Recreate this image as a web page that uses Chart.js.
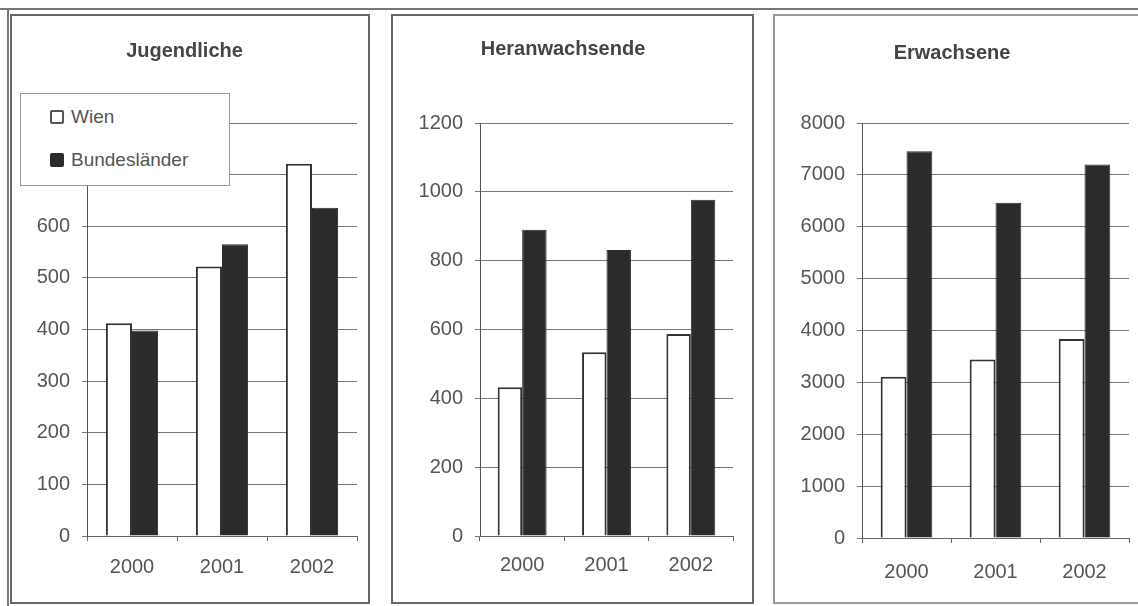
<!DOCTYPE html>
<html>
<head>
<meta charset="utf-8">
<script src="https://cdn.jsdelivr.net/npm/chart.js@4/dist/chart.umd.min.js"></script>
<style>
    body { margin: 0; background: #fff; font-family: "Liberation Sans", Arial, sans-serif; }
    #page { position: relative; width: 1138px; height: 606px; overflow: hidden; background: #fff; }
    .linie { position: absolute; background: #777; }
    .panel { position: absolute; top: 14px; height: 590px; box-sizing: border-box; border: 2px solid #666; background: #fff; }
    canvas { position: absolute; }
    #legende { position: absolute; left: 20px; top: 93px; width: 210px; height: 93px; box-sizing: border-box;
               border: 1px solid #999; background: #fff; }
    .eintrag { position: absolute; left: 29px; font-size: 19px; color: #555; line-height: 20px; white-space: nowrap; }
    .marke { display: inline-block; width: 14px; height: 14px; box-sizing: border-box; margin-right: 7px; vertical-align: -1px; border-radius: 2px; }
</style>
</head>
<body>
<div id="page">
    <div class="linie" style="left:0; top:8px; width:1138px; height:2px;"></div>
    <div class="linie" style="left:7px; top:8px; width:2px; height:598px;"></div>
    <div class="panel" style="left:10px; width:360px;"></div>
    <div class="panel" style="left:391px; width:363px;"></div>
    <div class="panel" style="left:773px; width:372px; border-color:#999;"></div>
    <canvas id="chartJugend" width="356" height="586" style="left:12px; top:16px;"></canvas>
    <canvas id="chartHeran" width="359" height="586" style="left:393px; top:16px;"></canvas>
    <canvas id="chartErw" width="368" height="586" style="left:775px; top:16px;"></canvas>
    <div id="legende"></div>
</div>
<script>
// Daten
const jahre = ['2000', '2001', '2002'];
const serien = ['Wien', 'Bundesländer'];
const titel = ['Jugendliche', 'Heranwachsende', 'Erwachsene'];

const jugendWien = [412, 522, 721];
const jugendBund = [398, 565, 636];
const heranWien = [432, 534, 587];
const heranBund = [890, 831, 977];
const erwWien = [3108, 3442, 3838];
const erwBund = [7454, 6462, 7198];

// Achsen
const yMax = [800, 1200, 8000];
const yStep = [100, 200, 1000];

// Layout je Diagramm
const layoutCfg = [
    { yW: 75, right: 11, titleTop: 23, titleBottom: 60, xH: 66, xPad: 14 },
    { yW: 87, right: 19, titleTop: 21, titleBottom: 62, xH: 66, xPad: 12 },
    { yW: 87, right: 14, titleTop: 25, titleBottom: 58, xH: 64, xPad: 17 }
];

const textFarbe = '#555';
const schrift = { family: 'Liberation Sans', size: 20 };

function erstelleDiagramm(canvasId, idx, wien, bund) {
    const cfg = layoutCfg[idx];
    const ctx = document.getElementById(canvasId).getContext('2d');
    return new Chart(ctx, {
        type: 'bar',
        data: {
            labels: jahre,
            datasets: [
                {
                    label: serien[0],
                    data: wien,
                    backgroundColor: '#ffffff',
                    borderColor: '#333333',
                    borderWidth: 2
                },
                {
                    label: serien[1],
                    data: bund,
                    backgroundColor: '#2b2b2b',
                    borderColor: '#2b2b2b',
                    borderWidth: 1
                }
            ]
        },
        options: {
            responsive: false,
            animation: false,
            layout: {
                padding: { left: 0, right: cfg.right, top: 0, bottom: 0 }
            },
            datasets: {
                bar: { categoryPercentage: 0.58, barPercentage: 1.0 }
            },
            plugins: {
                legend: { display: false },
                tooltip: { enabled: false },
                title: {
                    display: true,
                    text: titel[idx],
                    color: '#444',
                    font: { family: 'Liberation Sans', size: 20, weight: 'bold' },
                    padding: { top: cfg.titleTop, bottom: cfg.titleBottom }
                }
            },
            scales: {
                x: {
                    grid: { drawOnChartArea: false, drawTicks: true, tickLength: 5, color: '#666', offset: true },
                    border: { color: '#666', width: 1 },
                    ticks: { color: textFarbe, font: schrift, padding: cfg.xPad, maxRotation: 0 },
                    afterFit: function(scale) { scale.height = cfg.xH; }
                },
                y: {
                    min: 0,
                    max: yMax[idx],
                    ticks: {
                        stepSize: yStep[idx],
                        color: textFarbe,
                        font: schrift,
                        padding: 12,
                        // ohne Tausendertrennzeichen
                        callback: function(value) { return String(value); }
                    },
                    grid: { color: '#777', lineWidth: 1, tickLength: 5 },
                    border: { color: '#555', width: 1 },
                    afterFit: function(scale) { scale.width = cfg.yW; }
                }
            }
        }
    });
}

document.addEventListener('DOMContentLoaded', function() {
    const c1 = erstelleDiagramm('chartJugend', 0, jugendWien, jugendBund);
    erstelleDiagramm('chartHeran', 1, heranWien, heranBund);
    erstelleDiagramm('chartErw', 2, erwWien, erwBund);

    // Legende im ersten Diagramm (ueberdeckt die oberen Achsenwerte)
    const legende = document.getElementById('legende');
    c1.data.datasets.forEach(function(ds, i) {
        const e = document.createElement('div');
        e.className = 'eintrag';
        e.style.top = (i === 0 ? 13 : 56) + 'px';
        const m = document.createElement('span');
        m.className = 'marke';
        m.style.background = ds.backgroundColor;
        m.style.border = i === 0 ? '2px solid #555' : '0';
        e.appendChild(m);
        e.appendChild(document.createTextNode(ds.label));
        legende.appendChild(e);
    });
});
</script>
</body>
</html>
